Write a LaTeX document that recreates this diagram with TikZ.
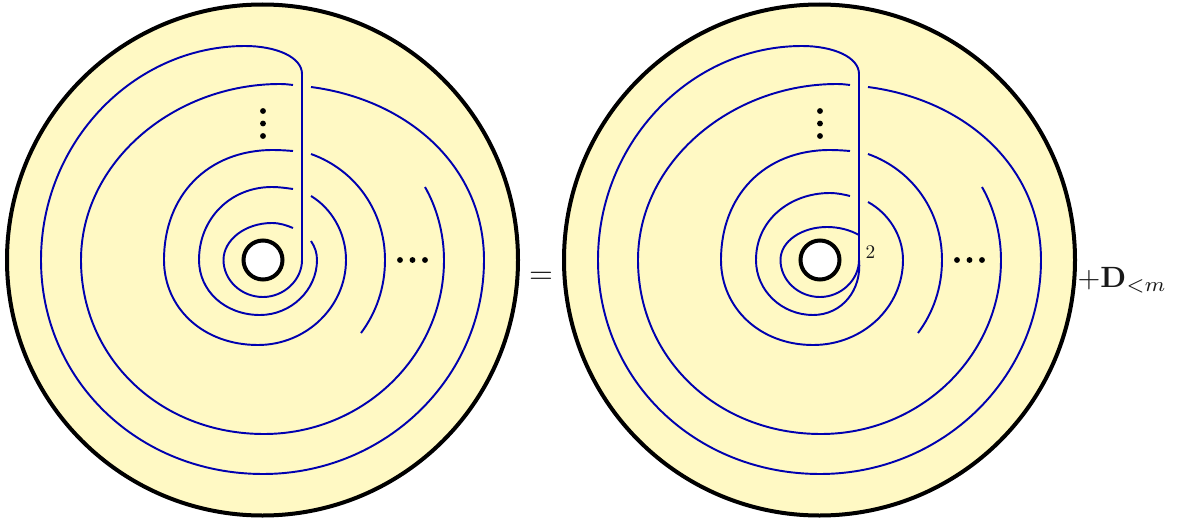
\documentclass[tikz,border=0pt]{standalone}
\definecolor{discfill}{RGB}{255,249,196}
\definecolor{strand}{RGB}{0,0,176}
\tikzset{
  disc/.style={draw=black,line width=3pt,fill=discfill},
  hole/.style={draw=black,line width=3pt,fill=white},
  strandline/.style={draw=strand,line width=1.45pt},
  dotmark/.style={circle,fill=black,inner sep=0pt,minimum size=4.4pt},
  textlabel/.style={inner sep=0pt,text=black!90}
}
\newcommand{\discbase}{%
  \draw[disc] (262.5,260) circle[radius=255.5];
  \draw[hole] (263,260) circle[radius=19.5];
  \node[dotmark] (v1) at (263,111) {};
  \node[dotmark] (v2) at (263,123.5) {};
  \node[dotmark] (v3) at (263,136) {};
  \node[dotmark] (h1) at (400,260) {};
  \node[dotmark] (h2) at (412.5,260) {};
  \node[dotmark] (h3) at (425,260) {};
  % pieces common to both discs
  \draw[strandline] (311,154) .. controls (356,170) and (385,212) .. (385,260)
     .. controls (385,288) and (376,313) .. (361,333);
  \draw[strandline] (425,187) .. controls (437,208) and (444,234) .. (444,260)
     .. controls (444,356) and (363,434) .. (264,434)
     .. controls (160,434) and (81,358) .. (81,260)
     .. controls (81,162) and (174,84) .. (280,84)
     .. controls (285,84) and (289,84.5) .. (293,85);
  \draw[strandline] (311,87) .. controls (410,100) and (484,168) .. (484,260)
     .. controls (484,378) and (385,474) .. (263,474)
     .. controls (138,474) and (41,380) .. (41,260)
     .. controls (41,142) and (134,46) .. (245,46)
     .. controls (276,46) and (302,57) .. (302,74) -- (302,260);
  \draw[strandline] (302,260) .. controls (302,280) and (284,297) .. (263,297)
     .. controls (241,297) and (223.5,280) .. (223.5,260);
}
\begin{document}
\begin{tikzpicture}[x=0.75pt,y=-0.75pt]
\useasboundingbox (0,0) rectangle (1183,521);
% left disc
\discbase
\draw[strandline] (223.5,260) .. controls (223.5,240) and (245,223) .. (272,223)
   .. controls (280,223) and (287,225.5) .. (293,228);
\draw[strandline] (311,241) .. controls (315,247) and (317,253) .. (317,260)
   .. controls (317,290) and (291,315) .. (260,315)
   .. controls (225,315) and (199,291) .. (199,260)
   .. controls (199,219) and (230,187) .. (272,187)
   .. controls (279,187) and (286,188) .. (293,189);
\draw[strandline] (311,196) .. controls (331,208) and (346,232) .. (346,260)
   .. controls (346,307) and (306,345) .. (258,345)
   .. controls (203,345) and (164,308) .. (164,260)
   .. controls (164,196) and (207,150) .. (273,150)
   .. controls (280,150) and (287,150.5) .. (293,151);
% right disc
\begin{scope}[shift={(557,0)}]
\discbase
\draw[strandline] (223.5,260) .. controls (223.5,241) and (245,227) .. (270,227)
   .. controls (282,227) and (293,230) .. (302,235);
\draw[strandline] (302,260) .. controls (305,290) and (285,315) .. (256,315)
   .. controls (225,315) and (199,291) .. (199,260)
   .. controls (199,220) and (233,193) .. (273,193)
   .. controls (280,193) and (287,194.5) .. (293,196);
\draw[strandline] (311,202) .. controls (331,213) and (346,235) .. (346,260)
   .. controls (346,307) and (306,345) .. (256,345)
   .. controls (203,345) and (164,308) .. (164,260)
   .. controls (164,196) and (207,150) .. (273,150)
   .. controls (280,150) and (287,150.5) .. (293,151);
\end{scope}
\node[textlabel,scale=2.3] (eq) at (541,278) {$=$};
\node[textlabel,scale=1.45] (two) at (870.5,252) {$2$};
\node[textlabel,scale=2.2,anchor=west] (rest) at (1077,280) {$+\mathbf{D}_{<m}$};
\end{tikzpicture}
\end{document}
